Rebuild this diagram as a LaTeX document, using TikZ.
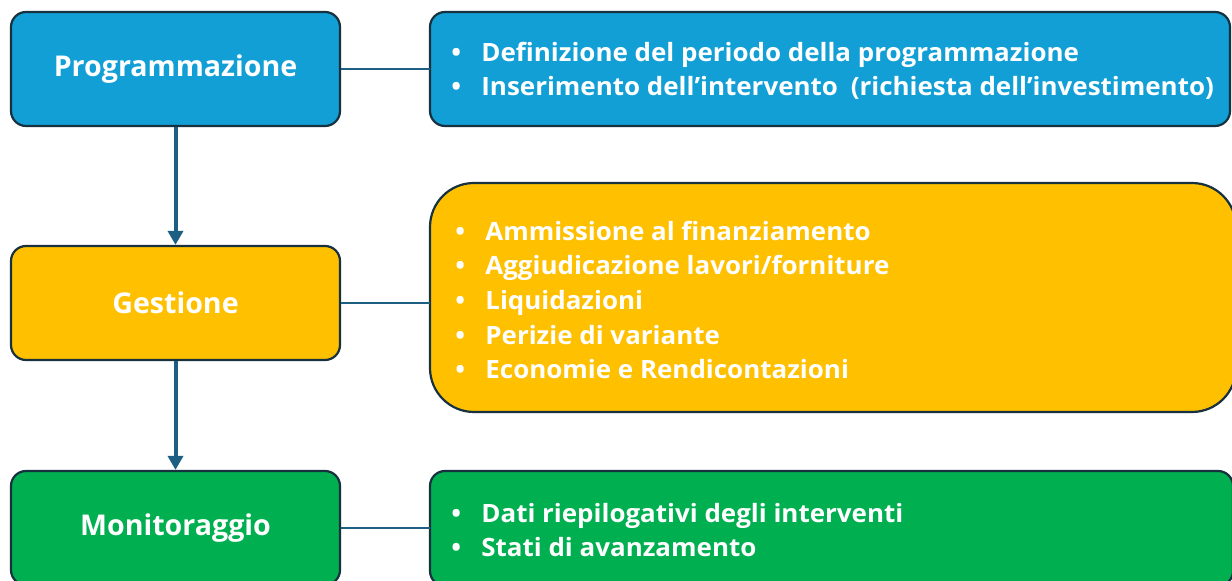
\documentclass[tikz,border=0pt]{standalone}
\usepackage{fontspec}
\setmainfont{Open Sans}
\newfontfamily\labelfont{Open Sans}[UprightFont=* Bold,BoldFont=* Bold]
\newfontfamily\listfont{Open Sans}[UprightFont=* Bold,BoldFont=* Bold,FakeStretch=1.03]
\usetikzlibrary{arrows.meta}
\definecolor{cblue}{HTML}{119FD6}
\definecolor{cyellow}{HTML}{FFC000}
\definecolor{cgreen}{HTML}{00B050}
\definecolor{cborder}{HTML}{17313F}
\definecolor{cline}{HTML}{1D5F82}
\tikzset{
  phasebox/.style={draw=cborder, line width=1.1pt, rounded corners=7.5pt,
    minimum width=164.5pt, minimum height=57pt, inner sep=0pt,
    text=white, font=\labelfont\fontsize{14.3}{16}\selectfont},
  listbox/.style={inner sep=0pt, text=white, align=left,
    font=\listfont\fontsize{12.6}{17.3}\selectfont},
  panel/.style={draw=cborder, line width=1.1pt},
  link/.style={draw=cline, line width=1.1pt},
  flow/.style={draw=cline, line width=2pt, -{Triangle[length=7pt,width=7.5pt]}},
}
\newcommand{\bul}{\makebox[15pt][l]{\textbullet}}
\begin{document}
\begin{tikzpicture}[x=0.5pt,y=-0.5pt]
\useasboundingbox (0,0) rectangle (1232,581);
% left boxes
\node[phasebox, fill=cblue] (p) at (175.5,69) {Programmazione};
\node[phasebox, fill=cyellow] (g) at (175.5,303) {Gestione};
\node[phasebox, fill=cgreen] (m) at (175.5,528) {Monitoraggio};
% right boxes
\draw[panel, fill=cblue, rounded corners=7.5pt] (430,12) rectangle (1230,126);
\node[listbox, anchor=west] (pl) at (451,71) {\bul Definizione del periodo della programmazione\\
\bul Inserimento dell’intervento\hspace{3pt} (richiesta dell’investimento)};
\draw[panel, fill=cyellow, rounded corners=22pt] (430,183) rectangle (1236,412);
\node[listbox, anchor=west] (gl) at (455,300) {\bul Ammissione al finanziamento\\
\bul Aggiudicazione lavori/forniture\\
\bul Liquidazioni\\
\bul Perizie di variante\\
\bul Economie e Rendicontazioni};
\draw[panel, fill=cgreen, rounded corners=7.5pt] (430,471) rectangle (1233,586);
\node[listbox, anchor=west] (ml) at (451,530) {\bul Dati riepilogativi degli interventi\\
\bul Stati di avanzamento};
% connectors
\coordinate (pr) at (430,69);
\coordinate (gr) at (430,303);
\coordinate (mr) at (430,528);
\draw[link] (p.east) -- (pr);
\draw[link] (g.east) -- (gr);
\draw[link] (m.east) -- (mr);
\draw[flow] (p.south) -- (g.north);
\draw[flow] (g.south) -- (m.north);
\end{tikzpicture}
\end{document}
